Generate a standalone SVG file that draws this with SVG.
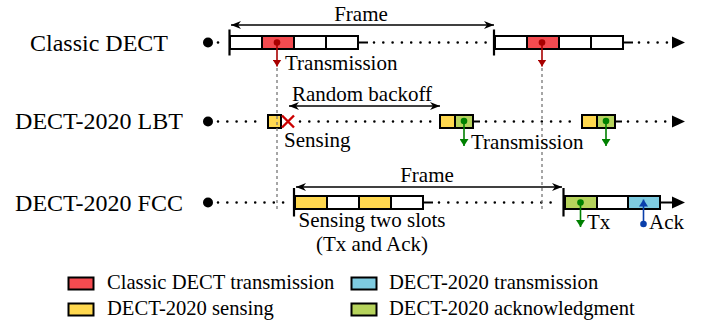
<svg xmlns="http://www.w3.org/2000/svg" width="704" height="322" viewBox="0 0 704 322">
<style>
text{font-family:"Liberation Serif","Times New Roman",serif;fill:#000}
.lbl{font-size:24px;text-anchor:middle}
.t{font-size:21px}
.lg{font-size:20.6px}
.mid{text-anchor:middle}
.slot{stroke:#000;stroke-width:2;fill:#fff}
.red{fill:#f44b50}
.yel{fill:#ffd84f}
.grn{fill:#b6d35c}
.blu{fill:#7ecbe0}
.dots{stroke:#000;stroke-width:2.6;stroke-linecap:round;stroke-dasharray:0 9.3;fill:none}
.solid{stroke:#000;stroke-width:2;fill:none}
.tick{stroke:#000;stroke-width:2.2}
.guide{stroke:#777;stroke-width:1.3;stroke-dasharray:3 3}
.span{stroke:#000;stroke-width:1.3;fill:none;marker-start:url(#stl);marker-end:url(#stl)}
</style>
<defs>
<marker id="stl" viewBox="0 0 10 8" refX="10" refY="4" markerWidth="10" markerHeight="8" markerUnits="userSpaceOnUse" orient="auto-start-reverse">
<path d="M0,0 L10,4 L0,8 L3,4 z" fill="#000"/>
</marker>
<marker id="ar" viewBox="0 0 7 9" refX="7" refY="4.5" markerWidth="7" markerHeight="9" markerUnits="userSpaceOnUse" orient="auto">
<path d="M0,0 L7,4.5 L0,9 z" fill="#a80000"/>
</marker>
<marker id="ag" viewBox="0 0 7 9" refX="7" refY="4.5" markerWidth="7" markerHeight="9" markerUnits="userSpaceOnUse" orient="auto">
<path d="M0,0 L7,4.5 L0,9 z" fill="#008000"/>
</marker>
<marker id="ab" viewBox="0 0 7 9" refX="7" refY="4.5" markerWidth="7" markerHeight="9" markerUnits="userSpaceOnUse" orient="auto">
<path d="M0,0 L7,4.5 L0,9 z" fill="#0a3faa"/>
</marker>
</defs>

<g id="labels">
<text class="lbl" x="99" y="50.7">Classic DECT</text>
<text class="lbl" x="99" y="129.3">DECT-2020 LBT</text>
<text class="lbl" x="99" y="211">DECT-2020 FCC</text>
</g>

<g id="row-classic">
<circle cx="208" cy="42.5" r="5"/>
<path class="dots" d="M218,42.5 H222"/>
<line class="tick" x1="229.5" y1="29.5" x2="229.5" y2="55.5"/>
<rect class="slot" x="230" y="36" width="32" height="13"/>
<rect class="slot red" x="262" y="36" width="32" height="13"/>
<rect class="slot" x="294" y="36" width="32" height="13"/>
<rect class="slot" x="326" y="36" width="32" height="13"/>
<path class="solid" d="M358,42.5 H368"/>
<path class="dots" d="M374,42.5 H490"/>
<line class="tick" x1="494" y1="29.5" x2="494" y2="55.5"/>
<rect class="slot" x="495" y="36" width="32" height="13"/>
<rect class="slot red" x="527" y="36" width="32" height="13"/>
<rect class="slot" x="559" y="36" width="32" height="13"/>
<rect class="slot" x="591" y="36" width="32" height="13"/>
<path class="solid" d="M623,42.5 H633"/>
<path class="dots" d="M639,42.5 H667"/>
<polygon points="672,36.5 685,42.5 672,48.5"/>
</g>

<g id="row-lbt">
<circle cx="208" cy="121.5" r="5"/>
<path class="dots" d="M218,121.5 H263"/>
<rect class="slot yel" x="268" y="115" width="13" height="13"/>
<path d="M282,115.5 L294,127.5 M294,115.5 L282,127.5" stroke="#cc0000" stroke-width="2.4"/>
<path class="dots" d="M300,121.5 H436"/>
<rect class="slot yel" x="440" y="115" width="15" height="13"/>
<rect class="slot grn" x="455" y="115" width="18" height="13"/>
<path class="solid" d="M473,121.5 H480"/>
<path class="dots" d="M486,121.5 H578"/>
<rect class="slot yel" x="582" y="115" width="15" height="13"/>
<rect class="slot grn" x="597" y="115" width="18" height="13"/>
<path class="solid" d="M615,121.5 H622"/>
<path class="dots" d="M628,121.5 H667"/>
<polygon points="672,115.5 685,121.5 672,127.5"/>
</g>

<g id="row-fcc">
<circle cx="208" cy="202.5" r="5"/>
<path class="dots" d="M218,202.5 H290"/>
<line class="tick" x1="294" y1="188" x2="294" y2="216.5"/>
<rect class="slot yel" x="295" y="196" width="32" height="13"/>
<rect class="slot" x="327" y="196" width="32" height="13"/>
<rect class="slot yel" x="359" y="196" width="32" height="13"/>
<rect class="slot" x="391" y="196" width="32" height="13"/>
<path class="solid" d="M423,202.5 H433"/>
<path class="dots" d="M439,202.5 H559"/>
<line class="tick" x1="563.5" y1="188" x2="563.5" y2="216.5"/>
<rect class="slot grn" x="565" y="196" width="32" height="13"/>
<rect class="slot" x="597" y="196" width="31" height="13"/>
<rect class="slot blu" x="628" y="196" width="32" height="13"/>
<path class="solid" d="M660,202.5 H673"/>
<polygon points="672,196.5 685,202.5 672,208.5"/>
</g>

<g id="connectors">
<path class="span" d="M231,25 H494"/>
<path class="span" d="M289,106 H440"/>
<path class="span" d="M296,187 H562"/>
<line x1="277" y1="42.5" x2="277" y2="66.5" stroke="#a80000" stroke-width="1.6" marker-end="url(#ar)"/>
<circle cx="277" cy="42.5" r="3.3" fill="#a80000"/>
<line x1="542" y1="42.5" x2="542" y2="66.5" stroke="#a80000" stroke-width="1.6" marker-end="url(#ar)"/>
<circle cx="542" cy="42.5" r="3.3" fill="#a80000"/>
<line x1="464" y1="121" x2="464" y2="146" stroke="#008000" stroke-width="1.6" marker-end="url(#ag)"/>
<circle cx="464" cy="121" r="3.3" fill="#008000"/>
<line x1="606" y1="121" x2="606" y2="146" stroke="#008000" stroke-width="1.6" marker-end="url(#ag)"/>
<circle cx="606" cy="121" r="3.3" fill="#008000"/>
<line x1="580.5" y1="202.5" x2="580.5" y2="227" stroke="#008000" stroke-width="1.6" marker-end="url(#ag)"/>
<circle cx="580.5" cy="202.5" r="3.3" fill="#008000"/>
<line x1="643.5" y1="224" x2="643.5" y2="199.5" stroke="#0a3faa" stroke-width="1.6" marker-end="url(#ab)"/>
<circle cx="643.5" cy="224" r="3.3" fill="#0a3faa"/>
<line class="guide" x1="277" y1="68" x2="277" y2="211"/>
<line class="guide" x1="542" y1="68" x2="542" y2="211"/>
</g>

<g id="annotations">
<text class="t mid" x="361" y="21">Frame</text>
<text class="t" x="285" y="70">Transmission</text>
<text class="t mid" x="362" y="101">Random backoff</text>
<text class="t" x="284" y="147">Sensing</text>
<text class="t" x="471" y="148.5">Transmission</text>
<text class="t mid" x="427" y="181.5">Frame</text>
<text class="t mid" x="372" y="227">Sensing two slots</text>
<text class="t mid" x="372" y="250.5">(Tx and Ack)</text>
<text class="t" x="587" y="229">Tx</text>
<text class="t" x="649" y="229">Ack</text>
</g>

<g id="legend">
<rect class="slot red" x="68.5" y="277.5" width="25" height="12"/>
<text class="lg" x="107" y="288.5">Classic DECT transmission</text>
<rect class="slot yel" x="68.5" y="303.5" width="25" height="12"/>
<text class="lg" x="107" y="315">DECT-2020 sensing</text>
<rect class="slot blu" x="351.5" y="277.5" width="25" height="12"/>
<text class="lg" x="389" y="288.5">DECT-2020 transmission</text>
<rect class="slot grn" x="351.5" y="303.5" width="25" height="12"/>
<text class="lg" x="389" y="315">DECT-2020 acknowledgment</text>
</g>
</svg>
